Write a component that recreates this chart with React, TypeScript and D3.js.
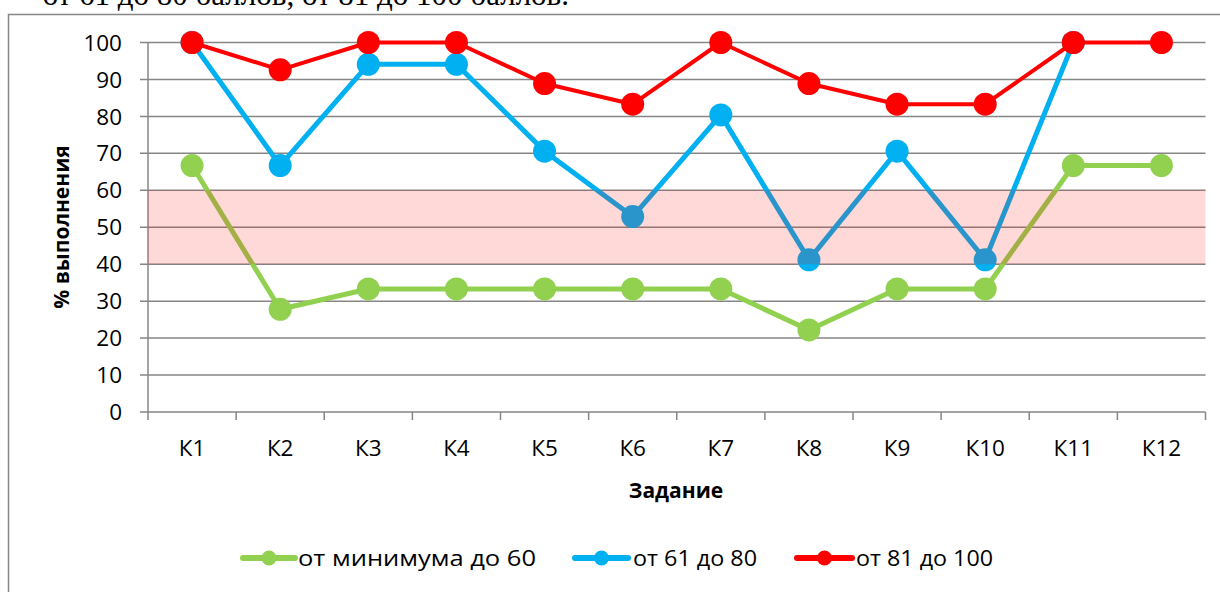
import React from "react";
import * as d3 from "d3";

const categories = ["К1", "К2", "К3", "К4", "К5", "К6", "К7", "К8", "К9", "К10", "К11", "К12"];
const seriesLow: (number | null)[] = [66.7, 27.8, 33.3, 33.3, 33.3, 33.3, 33.3, 22.2, 33.3, 33.3, 66.7, 66.7];
const seriesMid: (number | null)[] = [100, 66.7, 94.1, 94.1, 70.6, 52.9, 80.4, 41.2, 70.6, 41.2, 100, null];
const seriesHigh: (number | null)[] = [100, 92.6, 100, 100, 88.9, 83.3, 100, 88.9, 83.3, 83.3, 100, 100];
const yTicks = [0, 10, 20, 30, 40, 50, 60, 70, 80, 90, 100];
const seriesNames = ["от минимума до 60", "от 61 до 80", "от 81 до 100"];
const seriesColors = ["#92D050", "#00B0F0", "#FF0000"];
const band = [40, 60];

const W = 1220, H = 592;
const left = 148, right = 1205.5, top = 42.5, bottom = 412;
const FONT = "'Open Sans', sans-serif";

export default function App() {
  const x = d3.scaleBand<string>().domain(categories).range([left, right]);
  const y = d3.scaleLinear().domain([0, 100]).range([bottom, top]);
  const allSeries = [seriesLow, seriesMid, seriesHigh];
  const widths = [5, 5, 4];
  const line = d3
    .line<number | null>()
    .defined((d) => d != null)
    .x((_, i) => (x(categories[i]) as number) + x.bandwidth() / 2)
    .y((d) => y(d as number));

  const legendItems = [
    { x0: 243, x1: 295, tx: 298, tl: 238 },
    { x0: 575, x1: 628, tx: 633, tl: 124 },
    { x0: 797, x1: 852, tx: 856, tl: 137 },
  ];

  return (
    <svg width={W} height={H} style={{ position: "absolute", left: 0, top: 0 }}>
      <rect x={0} y={0} width={W} height={H} fill="#fff" />
      <text x={569} y={5} textAnchor="end" fontFamily="'Liberation Serif', serif" fontSize={31} fill="#000">
        от 61 до 80 баллов, от 81 до 100 баллов.
      </text>
      <rect x={8.5} y={14.5} width={1240} height={600} fill="#fff" stroke="#868686" strokeWidth={1.5} />
      {yTicks.map((t) => (
        <line key={"g" + t} x1={left - 8} x2={right} y1={y(t)} y2={y(t)} stroke="#868686" strokeWidth={1.5} />
      ))}
      <line x1={left} x2={left} y1={top} y2={bottom + 8} stroke="#868686" strokeWidth={1.5} />
      {categories.map((c, i) => (
        <line key={"xt" + i} x1={(x(c) as number) + x.bandwidth()} x2={(x(c) as number) + x.bandwidth()} y1={bottom} y2={bottom + 8} stroke="#868686" strokeWidth={1.5} />
      ))}
      {yTicks.map((t) => (
        <text key={"yl" + t} x={122} y={y(t)} dy="0.36em" textAnchor="end" fontFamily={FONT} fontSize={22.5} fill="#000">
          {t}
        </text>
      ))}
      {categories.map((c) => (
        <text key={"xl" + c} x={(x(c) as number) + x.bandwidth() / 2} y={456} textAnchor="middle" fontFamily={FONT} fontSize={22.5} fill="#000">
          {c}
        </text>
      ))}
      {allSeries.map((s, k) => (
        <g key={"s" + k}>
          <path d={line(s) || ""} fill="none" stroke={seriesColors[k]} strokeWidth={widths[k]} strokeLinejoin="round" />
          {s.map((v, i) =>
            v == null ? null : (
              <circle key={i} cx={(x(categories[i]) as number) + x.bandwidth() / 2} cy={y(v)} r={11.5} fill={seriesColors[k]} />
            )
          )}
        </g>
      ))}
      <rect x={left} y={y(band[1])} width={right - left} height={y(band[0]) - y(band[1])} fill="rgb(255,12,15)" fillOpacity={0.16} />
      <text x={676} y={498} textAnchor="middle" fontFamily={FONT} fontWeight="bold" fontSize={21} fill="#000">
        Задание
      </text>
      <text transform={`translate(69,227) rotate(-90)`} textAnchor="middle" fontFamily={FONT} fontWeight="bold" fontSize={21} fill="#000">
        % выполнения
      </text>
      {legendItems.map((it, k) => (
        <g key={"lg" + k}>
          <line x1={it.x0} x2={it.x1} y1={558} y2={558} stroke={seriesColors[k]} strokeWidth={6} strokeLinecap="round" />
          <circle cx={(it.x0 + it.x1) / 2} cy={558} r={7.5} fill={seriesColors[k]} />
          <text x={it.tx} y={566} fontFamily={FONT} fontSize={22.5} textLength={it.tl} lengthAdjust="spacingAndGlyphs" fill="#000">
            {seriesNames[k]}
          </text>
        </g>
      ))}
    </svg>
  );
}
